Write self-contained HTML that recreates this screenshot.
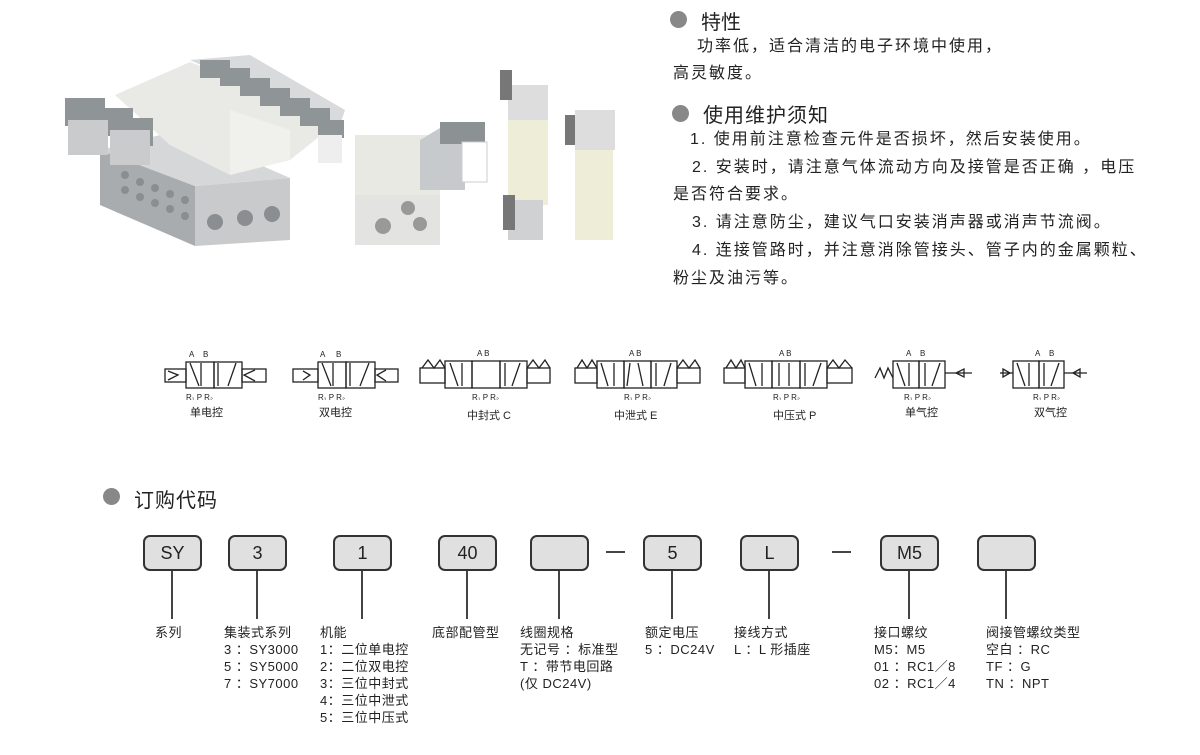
<!DOCTYPE html>
<html><head><meta charset="utf-8"><style>
body{margin:0;width:1200px;height:755px;background:#fff;position:relative;overflow:hidden;font-family:"Liberation Sans","Noto Sans CJK SC",sans-serif;color:#222}
.a{position:absolute;white-space:nowrap}
.dot{position:absolute;width:17px;height:17px;border-radius:50%;background:#888}
.t{font-size:16px;line-height:28px;letter-spacing:2px}
.box{position:absolute;width:55px;height:32px;border:2px solid #333;border-radius:7px;background:#e0e0e0;text-align:center;line-height:32px;font-size:18px;top:535px}
.vl{position:absolute;width:2px;background:#444;top:571px;height:48px}
.lab{position:absolute;top:624px;font-size:13px;line-height:17px;white-space:nowrap;letter-spacing:0.5px}
.cap{position:absolute;font-size:11px;white-space:nowrap}
</style></head><body>

<svg class="a" style="left:0;top:0" width="660" height="260">
<polygon points="100,150 195,186 195,246 100,205" fill="#a9acae"/>
<polygon points="195,186 290,178 290,240 195,246" fill="#c8cacc"/>
<polygon points="100,150 180,130 290,178 195,186" fill="#d5d7d9"/>
<g fill="#8b8e91">
<circle cx="215" cy="222" r="8"/><circle cx="245" cy="218" r="8"/><circle cx="272" cy="214" r="8"/>
<circle cx="125" cy="175" r="4"/><circle cx="140" cy="182" r="4"/><circle cx="155" cy="188" r="4"/><circle cx="170" cy="194" r="4"/><circle cx="185" cy="200" r="4"/>
<circle cx="125" cy="190" r="4"/><circle cx="140" cy="197" r="4"/><circle cx="155" cy="203" r="4"/><circle cx="170" cy="209" r="4"/><circle cx="185" cy="216" r="4"/>
</g>
<polygon points="115,95 190,62 340,120 290,160 230,175 170,145" fill="#e9eae6"/>
<polygon points="230,110 290,130 290,160 230,175" fill="#f0f0ec"/>
<polygon points="190,60 250,55 345,110 340,125 290,105" fill="#d8dadb"/>
<g fill="#8f9497">
<rect x="65" y="98" width="40" height="28"/><rect x="95" y="108" width="38" height="28"/><rect x="115" y="118" width="38" height="28"/>
<rect x="200" y="60" width="30" height="18"/><rect x="220" y="68" width="30" height="18"/><rect x="240" y="78" width="30" height="18"/><rect x="260" y="88" width="30" height="18"/><rect x="280" y="98" width="30" height="18"/><rect x="300" y="108" width="30" height="18"/><rect x="318" y="120" width="26" height="18"/>
</g>
<rect x="68" y="120" width="40" height="35" fill="#c9cbcd"/><rect x="110" y="130" width="40" height="35" fill="#c9cbcd"/>
<rect x="318" y="135" width="24" height="28" fill="#eee"/>
<rect x="355" y="195" width="85" height="50" fill="#e3e4e2"/>
<circle cx="408" cy="208" r="7" fill="#999"/><circle cx="383" cy="226" r="8" fill="#999"/><circle cx="420" cy="224" r="7" fill="#999"/>
<rect x="355" y="135" width="85" height="60" fill="#e9e9e4"/>
<polygon points="420,140 440,128 465,128 465,190 420,190" fill="#c7cacc"/>
<rect x="440" y="122" width="45" height="22" fill="#8c9194"/>
<rect x="462" y="142" width="25" height="40" fill="#fff" stroke="#ccc"/>
<rect x="508" y="85" width="40" height="40" fill="#ddd"/>
<rect x="500" y="70" width="12" height="30" fill="#777"/>
<rect x="508" y="120" width="40" height="85" fill="#eeeed8"/>
<rect x="508" y="200" width="35" height="40" fill="#cfd1d3"/>
<rect x="503" y="195" width="12" height="35" fill="#777"/>
<rect x="575" y="110" width="40" height="40" fill="#ddd"/>
<rect x="565" y="115" width="10" height="30" fill="#777"/>
<rect x="575" y="150" width="38" height="90" fill="#eeeed8"/>
</svg>

<div class="dot" style="left:670px;top:11px"></div>
<div class="a" style="left:701px;top:6px;font-size:20px">特性</div>
<div class="a t" style="left:697px;top:33px">功率低，适合清洁的电子环境中使用，</div>
<div class="a t" style="left:673px;top:60px">高灵敏度。</div>
<div class="dot" style="left:672px;top:105px"></div>
<div class="a" style="left:703px;top:99px;font-size:20px;letter-spacing:1px">使用维护须知</div>
<div class="a t" style="left:690px;top:126px">1. 使用前注意检查元件是否损坏，然后安装使用。</div>
<div class="a t" style="left:692px;top:154px">2. 安装时，请注意气体流动方向及接管是否正确 ，电压</div>
<div class="a t" style="left:673px;top:181px">是否符合要求。</div>
<div class="a t" style="left:692px;top:209px">3. 请注意防尘，建议气口安装消声器或消声节流阀。</div>
<div class="a t" style="left:692px;top:237px">4. 连接管路时，并注意消除管接头、管子内的金属颗粒、</div>
<div class="a t" style="left:673px;top:265px">粉尘及油污等。</div>

<svg class="a" style="left:0;top:340px" width="1200" height="60" stroke="#222" stroke-width="1.3" fill="none" font-family="Liberation Sans" font-size="8">
<g fill="#222" stroke="none">
<text x="189" y="17">A</text><text x="203" y="17">B</text><text x="186" y="60">R₁ P R₂</text>
<text x="320" y="17">A</text><text x="336" y="17">B</text><text x="318" y="60">R₁ P R₂</text>
<text x="477" y="16">A B</text><text x="472" y="60">R₁ P R₂</text>
<text x="629" y="16">A B</text><text x="624" y="60">R₁ P R₂</text>
<text x="779" y="16">A B</text><text x="773" y="60">R₁ P R₂</text>
<text x="906" y="16">A</text><text x="920" y="16">B</text><text x="904" y="60">R₁ P R₂</text>
<text x="1035" y="16">A</text><text x="1049" y="16">B</text><text x="1033" y="60">R₁ P R₂</text>
</g>
<rect x="165" y="29" width="21" height="13"/><polyline points="168,31 178,35 168,40"/>
<rect x="186" y="22" width="28" height="26"/><rect x="214" y="22" width="28" height="26"/>
<rect x="242" y="29" width="24" height="13"/><polyline points="255,30 244,35 255,41"/>
<line x1="190" y1="23" x2="199" y2="46"/><line x1="201" y1="23" x2="201" y2="46"/><line x1="218" y1="23" x2="218" y2="46"/><line x1="236" y1="23" x2="228" y2="46"/>
<rect x="293" y="29" width="25" height="13"/><polyline points="303,31 310,35 303,40"/>
<rect x="318" y="22" width="28" height="26"/><rect x="346" y="22" width="29" height="26"/>
<rect x="375" y="29" width="23" height="13"/><polyline points="386,30 377,35 386,41"/>
<line x1="322" y1="23" x2="331" y2="46"/><line x1="333" y1="23" x2="333" y2="46"/><line x1="350" y1="23" x2="350" y2="46"/><line x1="369" y1="23" x2="360" y2="46"/>
<rect x="420" y="28" width="25" height="15"/><polyline points="422,28 428,20 434,28 440,20 445,28"/>
<rect x="445" y="21" width="27" height="27"/><rect x="472" y="21" width="28" height="27"/><rect x="500" y="21" width="27" height="27"/>
<rect x="527" y="28" width="23" height="15"/><polyline points="527,28 533,20 539,28 545,20 550,28"/>
<line x1="450" y1="23" x2="458" y2="46"/><line x1="462" y1="23" x2="462" y2="46"/><line x1="505" y1="23" x2="505" y2="46"/><line x1="520" y1="23" x2="512" y2="46"/>
<rect x="575" y="28" width="22" height="15"/><polyline points="577,28 582,20 587,28 592,20 597,28"/>
<rect x="597" y="21" width="27" height="27"/><rect x="624" y="21" width="27" height="27"/><rect x="651" y="21" width="26" height="27"/>
<rect x="677" y="28" width="23" height="15"/><polyline points="677,28 683,20 689,28 695,20 700,28"/>
<line x1="601" y1="23" x2="608" y2="46"/><line x1="614" y1="23" x2="614" y2="46"/><line x1="630" y1="23" x2="627" y2="46"/><line x1="638" y1="23" x2="643" y2="46"/><line x1="656" y1="23" x2="656" y2="46"/><line x1="671" y1="23" x2="664" y2="46"/>
<rect x="724" y="28" width="21" height="15"/><polyline points="726,28 731,20 736,28 741,20 745,28"/>
<rect x="745" y="21" width="27" height="27"/><rect x="772" y="21" width="28" height="27"/><rect x="800" y="21" width="27" height="27"/>
<rect x="827" y="28" width="25" height="15"/><polyline points="827,28 833,20 839,28 845,20 852,28"/>
<line x1="749" y1="23" x2="756" y2="46"/><line x1="762" y1="23" x2="762" y2="46"/><line x1="779" y1="23" x2="779" y2="46"/><line x1="789" y1="23" x2="789" y2="46"/><line x1="805" y1="23" x2="805" y2="46"/><line x1="821" y1="23" x2="813" y2="46"/>
<polyline points="875,38 880,28 884,38 888,28 893,38"/>
<rect x="893" y="21" width="26" height="27"/><rect x="919" y="21" width="26" height="27"/>
<line x1="945" y1="33" x2="972" y2="33"/><polygon points="956,33 964,29 964,37"/>
<line x1="897" y1="23" x2="905" y2="46"/><line x1="909" y1="23" x2="909" y2="46"/><line x1="925" y1="23" x2="925" y2="46"/><line x1="940" y1="23" x2="932" y2="46"/>
<line x1="1000" y1="33" x2="1013" y2="33"/><polygon points="1010,33 1003,29 1003,37"/>
<rect x="1013" y="21" width="26" height="27"/><rect x="1039" y="21" width="25" height="27"/>
<line x1="1064" y1="33" x2="1087" y2="33"/><polygon points="1073,33 1080,29 1080,37"/>
<line x1="1017" y1="23" x2="1025" y2="46"/><line x1="1029" y1="23" x2="1029" y2="46"/><line x1="1044" y1="23" x2="1044" y2="46"/><line x1="1059" y1="23" x2="1051" y2="46"/>
</svg>
<div class="cap" style="left:190px;top:404px">单电控</div>
<div class="cap" style="left:319px;top:404px">双电控</div>
<div class="cap" style="left:467px;top:407px">中封式 C</div>
<div class="cap" style="left:614px;top:407px">中泄式 E</div>
<div class="cap" style="left:773px;top:407px">中压式 P</div>
<div class="cap" style="left:905px;top:404px">单气控</div>
<div class="cap" style="left:1034px;top:404px">双气控</div>

<div class="dot" style="left:103px;top:488px"></div>
<div class="a" style="left:134px;top:484px;font-size:20px;letter-spacing:1px">订购代码</div>

<div class="box" style="left:143px">SY</div><div class="vl" style="left:171px"></div>
<div class="box" style="left:228px">3</div><div class="vl" style="left:256px"></div>
<div class="box" style="left:333px">1</div><div class="vl" style="left:361px"></div>
<div class="box" style="left:438px">40</div><div class="vl" style="left:466px"></div>
<div class="box" style="left:530px"></div><div class="vl" style="left:558px"></div>
<div class="a" style="left:606px;top:551px;width:19px;height:1.5px;background:#444"></div>
<div class="box" style="left:643px">5</div><div class="vl" style="left:671px"></div>
<div class="box" style="left:740px">L</div><div class="vl" style="left:768px"></div>
<div class="a" style="left:832px;top:551px;width:19px;height:1.5px;background:#444"></div>
<div class="box" style="left:880px">M5</div><div class="vl" style="left:908px"></div>
<div class="box" style="left:977px"></div><div class="vl" style="left:1005px"></div>

<div class="lab" style="left:155px">系列</div>
<div class="lab" style="left:224px">集装式系列<br>3 ：SY3000<br>5 ：SY5000<br>7 ：SY7000</div>
<div class="lab" style="left:320px">机能<br>1：二位单电控<br>2：二位双电控<br>3：三位中封式<br>4：三位中泄式<br>5：三位中压式</div>
<div class="lab" style="left:432px">底部配管型</div>
<div class="lab" style="left:520px">线圈规格<br>无记号 ：标准型<br>T ：带节电回路<br>(仅 DC24V)</div>
<div class="lab" style="left:645px">额定电压<br>5 ：DC24V</div>
<div class="lab" style="left:734px">接线方式<br>L ：L 形插座</div>
<div class="lab" style="left:874px">接口螺纹<br>M5：M5<br>01 ：RC1／8<br>02 ：RC1／4</div>
<div class="lab" style="left:986px">阀接管螺纹类型<br>空白 ：RC<br>TF ：G<br>TN ：NPT</div>
</body></html>
